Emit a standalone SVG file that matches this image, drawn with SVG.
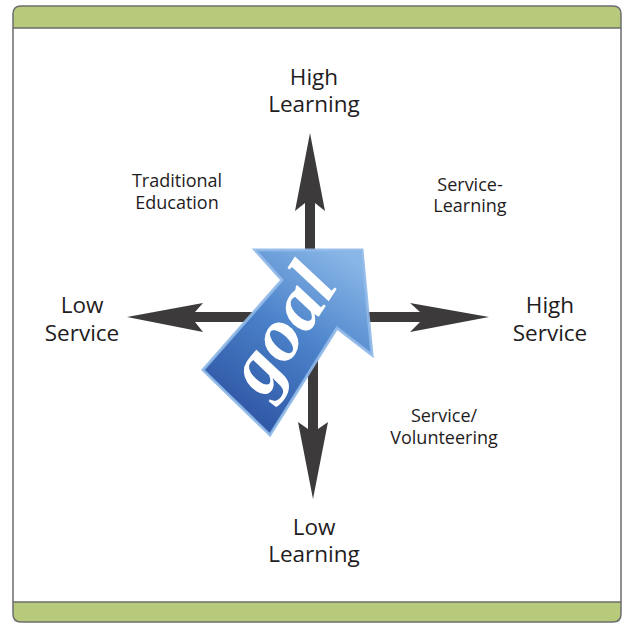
<svg xmlns="http://www.w3.org/2000/svg" width="624" height="624" viewBox="0 0 624 624">
<defs>
<style>
.lbl{font-family:"Open Sans","Noto Sans","Liberation Sans",sans-serif;fill:#1f1c1d;text-anchor:middle}
.big{font-size:22.5px}
.small{font-size:18px}
.ax{fill:#3d3a3b}
.bar{fill:#b7ca7c;stroke:#6e6e6e;stroke-width:1.5}
</style>
<linearGradient id="blue" x1="0.8" y1="0" x2="0.2" y2="1">
<stop offset="0" stop-color="#88b6e6"/>
<stop offset="0.45" stop-color="#4b82ca"/>
<stop offset="1" stop-color="#2a4f9e"/>
</linearGradient>
</defs>
<rect width="624" height="624" fill="#ffffff"/>
<g id="frame">
<path class="bar" d="M13,28 V14 Q13,6 21,6 H613 Q621,6 621,14 V28 Z"/>
<path class="bar" d="M13,602 H621 V614 Q621,622 613,622 H21 Q13,622 13,614 Z"/>
<path d="M13,28 V602 M621,28 V602" stroke="#6e6e6e" stroke-width="1.5" fill="none"/>
</g>
<g id="connectors">
<polygon class="ax" points="310,133 325,211 315,203 315,317 305,317 305,203 295,211"/>
<polygon class="ax" points="313,499 328,422 318,429 318,317 308,317 308,429 298,422"/>
<polygon class="ax" points="127,317 203,303 195,312 312,312 312,322 195,322 203,332"/>
<polygon class="ax" points="489,317 410,303 420,312 312,312 312,322 420,322 410,332"/>
</g>
<g id="goal">
<polygon points="255,250 362,250 372,355 337,328 270,435 203,370 282,280" fill="url(#blue)" stroke="#8fb8e8" stroke-width="3" stroke-opacity="0.9" stroke-linejoin="miter"/>
<text transform="translate(289,333) rotate(-57)" x="0" y="16" text-anchor="middle" font-family="'Liberation Serif',serif" font-weight="bold" font-style="italic" font-size="76" fill="#ffffff">goal</text>
</g>
<g id="high-learning"><text class="lbl big" x="314" y="85">High</text><text class="lbl big" x="314" y="112">Learning</text></g>
<g id="low-learning"><text class="lbl big" x="314" y="535">Low</text><text class="lbl big" x="314" y="562">Learning</text></g>
<g id="low-service"><text class="lbl big" x="82" y="313">Low</text><text class="lbl big" x="82" y="341">Service</text></g>
<g id="high-service"><text class="lbl big" x="550" y="313">High</text><text class="lbl big" x="550" y="341">Service</text></g>
<g id="traditional-education"><text class="lbl small" x="177" y="187">Traditional</text><text class="lbl small" x="177" y="209">Education</text></g>
<g id="service-learning"><text class="lbl small" x="470" y="191">Service-</text><text class="lbl small" x="470" y="212">Learning</text></g>
<g id="service-volunteering"><text class="lbl small" x="444" y="422">Service/</text><text class="lbl small" x="444" y="444">Volunteering</text></g>
</svg>
